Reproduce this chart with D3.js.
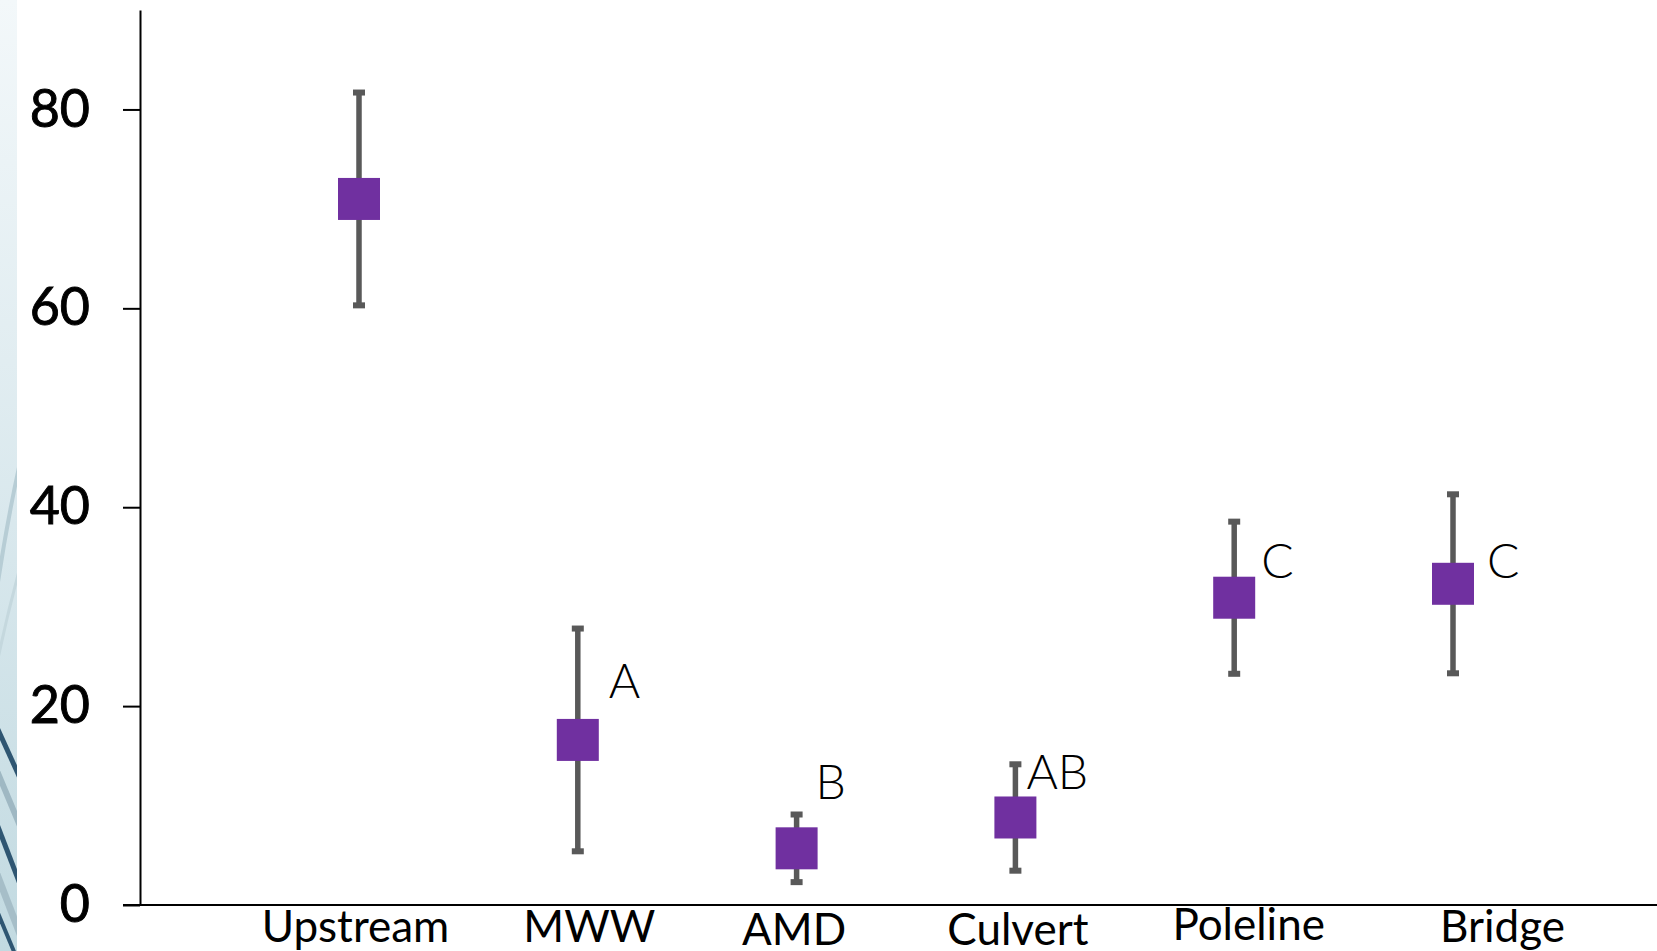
<!DOCTYPE html>
<html>
<head>
<meta charset="utf-8">
<script src="https://cdn.jsdelivr.net/npm/d3@7"></script>
<style>
  body { margin: 0; background: #fff; }
  svg { display: block; }
</style>
</head>
<body>
<div id="chart"></div>
<script>
const width = 1657,
    height = 951,
    margin = { top: 10, bottom: 46, left: 140, right: 0 };

// site means with +/- error, and significance group letters
const sites = ["Upstream", "MWW", "AMD", "Culvert", "Poleline", "Bridge"];
const means = [71.0, 16.6, 5.7, 8.8, 30.9, 32.3];
const errors = [10.7, 11.2, 3.4, 5.35, 7.65, 9.0];
const groups = ["", "A", "B", "AB", "C", "C"];
const groupLevels = [null, 20.8, 10.7, 11.7, 32.9, 32.9];
const yTicks = [0, 20, 40, 60, 80];

// small hand nudges, the original labels were placed by hand
const letterShift = [0, 31, 19, 11, 27, 34];
const siteShiftX = [-4, 11, -3, 2, 14, 49];
const siteShiftY = [0, 0, 3, 3, -2, 0];

const data = sites.map((s, i) => ({
    site: s, mean: means[i], err: errors[i],
    group: groups[i], level: groupLevels[i], i: i
}));

const svg = d3.select("#chart")
    .append("svg")
    .attr("width", width)
    .attr("height", height);

// decorative strip on the left edge
const defs = svg.append("defs");
const grad = defs.append("linearGradient")
    .attr("id", "stripGrad")
    .attr("x1", 0).attr("y1", 0).attr("x2", 0).attr("y2", 1);
grad.append("stop").attr("offset", "0%").attr("stop-color", "#f3f8fa");
grad.append("stop").attr("offset", "55%").attr("stop-color", "#d9e8ed");
grad.append("stop").attr("offset", "100%").attr("stop-color", "#c2dae1");
defs.append("clipPath").attr("id", "stripClip")
    .append("rect").attr("width", 17).attr("height", height);

const strip = svg.append("g").attr("clip-path", "url(#stripClip)");
strip.append("rect")
    .attr("width", 17).attr("height", height)
    .attr("fill", "url(#stripGrad)");
const swooshes = [
    { d: "M-10,640 Q5,520 30,420", c: "#b7cdd5", w: 4 },
    { d: "M-10,700 Q8,600 40,500", c: "#c5d8de", w: 3 },
    { d: "M-20,690 L30,800", c: "#2f5672", w: 5 },
    { d: "M-20,730 L30,850", c: "#9fb8c3", w: 6 },
    { d: "M-20,780 L30,910", c: "#2f5672", w: 5 },
    { d: "M-20,830 L30,960", c: "#a6bec8", w: 7 },
    { d: "M-20,870 L30,990", c: "#2f5672", w: 4 }
];
strip.selectAll("path")
    .data(swooshes)
    .join("path")
    .attr("d", d => d.d)
    .attr("fill", "none")
    .attr("stroke", d => d.c)
    .attr("stroke-width", d => d.w);

const x = d3.scalePoint()
    .domain(sites)
    .range([359, 1453]);

const y = d3.scaleLinear()
    .domain([0, 90])
    .range([height - margin.bottom, margin.top]);

const yAxis = d3.axisLeft(y)
    .tickValues(yTicks)
    .tickSize(17)
    .tickSizeOuter(0)
    .tickPadding(33);

const yAxisGroup = svg.append("g")
    .attr("transform", `translate(${margin.left}, 0)`)
    .call(yAxis);
yAxisGroup.selectAll("path, line")
    .attr("stroke", "#000")
    .attr("stroke-width", 2);
yAxisGroup.selectAll("text")
    .attr("fill", "#000")
    .attr("stroke", "#000")
    .attr("stroke-width", 0.9)
    .attr("font-family", "Lato, 'Open Sans', sans-serif")
    .attr("font-size", 52);

// x axis: a plain line, with labels under it
svg.append("line")
    .attr("x1", margin.left - 17)
    .attr("x2", width)
    .attr("y1", y(0))
    .attr("y2", y(0))
    .attr("stroke", "#000")
    .attr("stroke-width", 2);

const xAxis = d3.axisBottom(x).tickSize(0).tickSizeOuter(0);
const xAxisGroup = svg.append("g")
    .attr("transform", `translate(0, ${y(0)})`)
    .call(xAxis);
xAxisGroup.select(".domain").remove();
xAxisGroup.selectAll("text")
    .attr("fill", "#000")
    .attr("font-family", "Lato, 'Open Sans', sans-serif")
    .attr("font-size", 44)
    .attr("dy", null)
    .attr("x", (d, i) => siteShiftX[i])
    .attr("y", (d, i) => 37 + siteShiftY[i]);

// error bars
const bars = svg.append("g").selectAll("g.bar")
    .data(data)
    .join("g")
    .attr("class", "bar");

bars.append("line")
    .attr("x1", d => x(d.site))
    .attr("x2", d => x(d.site))
    .attr("y1", d => y(d.mean - d.err))
    .attr("y2", d => y(d.mean + d.err))
    .attr("stroke", "#595959")
    .attr("stroke-width", 5.5);

bars.selectAll("rect.cap")
    .data(d => [d.mean - d.err, d.mean + d.err].map(v => ({ site: d.site, v: v })))
    .join("rect")
    .attr("class", "cap")
    .attr("x", d => x(d.site) - 6)
    .attr("y", d => y(d.v) - 3)
    .attr("width", 12)
    .attr("height", 6)
    .attr("fill", "#595959");

const size = 42;
bars.append("rect")
    .attr("x", d => x(d.site) - size / 2)
    .attr("y", d => y(d.mean) - size / 2)
    .attr("width", size)
    .attr("height", size)
    .attr("fill", "#7030a0");

// group letters
svg.append("g").selectAll("text")
    .data(data.filter(d => d.group))
    .join("text")
    .attr("x", d => x(d.site) + letterShift[d.i])
    .attr("y", d => y(d.level))
    .attr("font-family", "Lato, 'Open Sans', sans-serif")
    .attr("font-weight", 300)
    .attr("font-size", 48)
    .attr("fill", "#000")
    .text(d => d.group);
</script>
</body>
</html>
